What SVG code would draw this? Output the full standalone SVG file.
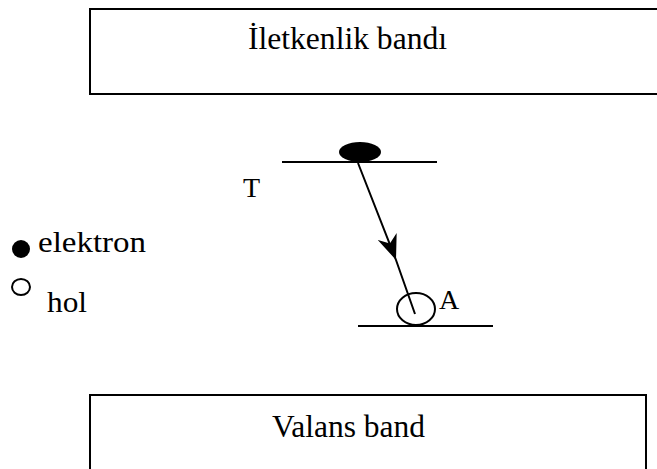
<svg xmlns="http://www.w3.org/2000/svg" width="657" height="469" viewBox="0 0 657 469">
<style>
.box{fill:#fff;stroke:#000;stroke-width:2}
.lv{stroke:#000;stroke-width:2;fill:none}
.t{font-family:"Liberation Serif","Times New Roman",serif;fill:#000}
</style>
<defs>
<marker id="ah" viewBox="0 0 20 16" refX="20" refY="8" markerWidth="25" markerHeight="20" markerUnits="userSpaceOnUse" orient="auto">
<path d="M0,0 L20,8 L0,16 L6,8 Z" fill="#000"/>
</marker>
</defs>
<rect width="657" height="469" fill="#fff"/>
<g id="iletkenlik">
<path class="box" d="M660,9 L90,9 L90,94 L660,94"/>
<text class="t" x="248" y="49" font-size="31" textLength="199" lengthAdjust="spacingAndGlyphs">İletkenlik bandı</text>
</g>
<g id="valans">
<path class="box" d="M90,472 L90,395 L646,395 L646,472"/>
<text class="t" x="272" y="437" font-size="31" textLength="153" lengthAdjust="spacingAndGlyphs">Valans band</text>
</g>
<g id="T-level">
<line class="lv" x1="282" y1="162" x2="437" y2="162"/>
<ellipse cx="360" cy="152" rx="21" ry="10" fill="#000"/>
<text class="t" x="243" y="197" font-size="28">T</text>
</g>
<g id="A-level">
<line class="lv" x1="358" y1="326" x2="493" y2="326"/>
<ellipse cx="416" cy="309" rx="19" ry="16" fill="none" stroke="#000" stroke-width="2"/>
<text class="t" x="439" y="309" font-size="28">A</text>
</g>
<g id="connectors">
<polyline class="lv" points="358,163 396,260 415,314" marker-mid="url(#ah)"/>
</g>
<g id="legend">
<circle cx="21" cy="249" r="9" fill="#000"/>
<text class="t" x="38" y="252" font-size="30" textLength="108" lengthAdjust="spacingAndGlyphs">elektron</text>
<ellipse cx="21" cy="287" rx="9" ry="8" fill="none" stroke="#000" stroke-width="2"/>
<text class="t" x="47" y="312" font-size="30" textLength="40" lengthAdjust="spacingAndGlyphs">hol</text>
</g>
</svg>
